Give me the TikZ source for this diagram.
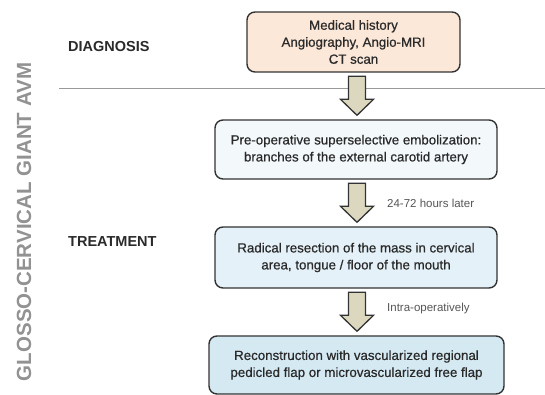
\documentclass[tikz,border=0pt]{standalone}
\usepackage{fontspec}
\setmainfont{Liberation Sans}
\newfontfamily\boxfont[FakeBold=0.6]{Liberation Sans}
\usetikzlibrary{calc}
\definecolor{peach}{HTML}{FCE8D8}
\definecolor{bluea}{HTML}{F3F8FB}
\definecolor{blueb}{HTML}{E4F1F8}
\definecolor{bluec}{HTML}{D5E9F3}
\definecolor{arrowfill}{HTML}{DCD8C0}
\definecolor{edge}{HTML}{333333}
\definecolor{txt}{HTML}{2A2A2A}
\definecolor{lbl}{HTML}{555555}
\definecolor{side}{HTML}{929292}
\tikzset{
  x=1pt,y=1pt,
  flowbox/.style={draw=edge, line width=1.4pt, rounded corners=8pt, align=center,
    text=txt, font=\boxfont\fontsize{13.3}{17}\selectfont, inner sep=0pt},
  heading/.style={anchor=west, text=txt, font=\bfseries\fontsize{14.5}{17}\selectfont, inner sep=0pt},
  steplabel/.style={anchor=west, text=lbl, font=\fontsize{11.5}{14}\selectfont, inner sep=0pt},
  blockarrow/.style={draw=edge, fill=arrowfill, line width=1.3pt, line join=miter},
}
\newcommand{\flowarrow}[2]{%
  \path[blockarrow] let \p1=($(#1.south)+(0,-3.5)$), \p2=($(#2.north)+(0,4)$) in
    (357,\y1) -- (365.5,\y1) -- (365.5,\y2+16) -- (373.5,\y2+16) -- (357,\y2)
    -- (340.5,\y2+16) -- (348.5,\y2+16) -- (348.5,\y1) -- cycle;}
\begin{document}
\begin{tikzpicture}
\useasboundingbox (0,0) rectangle (545,395);
% side title
\node[rotate=90, text=side, font=\bfseries\fontsize{20.5}{24}\selectfont, inner sep=0pt] (title) at (24,173) {GLOSSO-CERVICAL GIANT AVM};
% separator
\coordinate (sepL) at (59,306);
\coordinate (sepR) at (545,306);
\draw[color=black!40, line width=1pt] (sepL) -- (sepR);
% headings
\node[heading] (diag) at (68,348) {DIAGNOSIS};
\node[heading] (treat) at (68,153) {TREATMENT};
% boxes
\node[flowbox, fill=peach, minimum width=213, minimum height=60] (b1) at (353.5,353) {Medical history\\Angiography, Angio-MRI\\CT scan};
\node[flowbox, fill=bluea, minimum width=282, minimum height=59] (b2) at (356,245.5) {Pre-operative superselective embolization:\\branches of the external carotid artery};
\node[flowbox, fill=blueb, minimum width=282, minimum height=61] (b3) at (356,137.5) {Radical resection of the mass in cervical\\area, tongue / floor of the mouth};
\node[flowbox, fill=bluec, minimum width=295, minimum height=58] (b4) at (356.5,30) {Reconstruction with vascularized regional\\pedicled flap or microvascularized free flap};
% arrows
\flowarrow{b1}{b2}
\flowarrow{b2}{b3}
\flowarrow{b3}{b4}
% labels
\node[steplabel] (l1) at (387,192) {24-72 hours later};
\node[steplabel] (l2) at (387,86) {Intra-operatively};
\end{tikzpicture}
\end{document}
